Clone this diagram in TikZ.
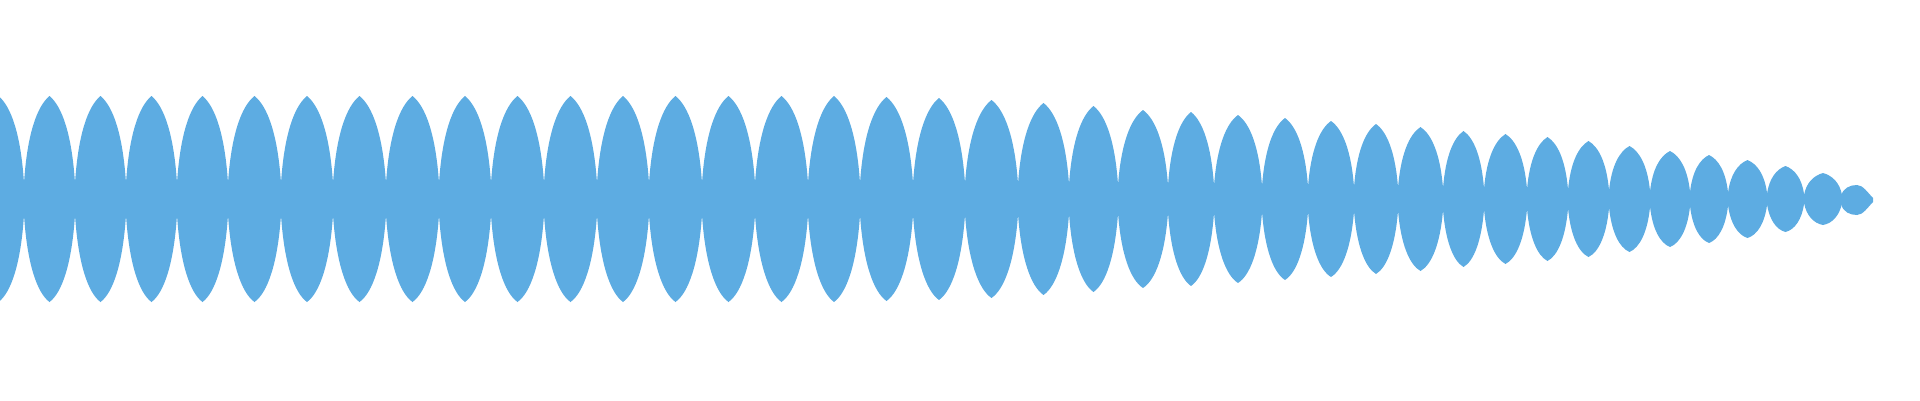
\documentclass[tikz,border=0pt]{standalone}
\definecolor{wave}{RGB}{93,172,226}
\begin{document}
\begin{tikzpicture}[x=1pt,y=-1pt,lobe/.style={fill=wave,draw=wave,line width=0.4pt}]
\useasboundingbox (0,0) rectangle (1920,400);
\clip (0,0) rectangle (1920,400);
\foreach \xa/\xb/\tp in {-27/24/96,24/75/96,75/126/96,126/177/96,177/228/96,228/281/96,281/333/96,333/386/96,386/439/96,439/491/96,491/544/96,544/597/96,597/649/96,649/702/96,702/755/96,755/808/96,808/860/96,860/913/97,913/965/98,965/1018/100,
1018/1069/103,1069/1118/106,1118/1168/110,1168/1214/112,1214/1262/115,1262/1308/118,1308/1354/121,1354/1398/124,1398/1443/127,1443/1484/131,1484/1527/134,1527/1568/137,1568/1609/141,1609/1650/146,1650/1690/151,1690/1728/155,1728/1767/160,1767/1804/166,1804/1842/173}{
  \pgfmathsetmacro{\b}{16*(199-\tp)/103}
  \pgfmathsetmacro{\w}{\xb-\xa}
  \pgfmathsetmacro{\xm}{(\xa+\xb)/2}
  \pgfmathsetmacro{\h}{199-\b-\tp}
  \pgfmathsetmacro{\ua}{199-\b}
  \pgfmathsetmacro{\la}{199+\b}
  \fill[wave] (\xa,\ua)
    .. controls ({\xa+0.06*\w},{\ua-0.55*\h}) and ({\xm-0.25*\w},{\tp+0.12*\h}) .. (\xm,\tp)
    .. controls ({\xm+0.25*\w},{\tp+0.12*\h}) and ({\xb-0.06*\w},{\ua-0.55*\h}) .. (\xb,\ua)
    -- (\xb,\la)
    .. controls ({\xb-0.06*\w},{\la+0.55*\h}) and ({\xm+0.25*\w},{399-\tp-0.12*\h}) .. (\xm,{398-\tp})
    .. controls ({\xm-0.25*\w},{399-\tp-0.12*\h}) and ({\xa+0.06*\w},{\la+0.55*\h}) .. (\xa,\la)
    -- cycle;
}
% final rounded lobe
\fill[wave] (1841,196) .. controls (1843,188) and (1850,185) .. (1857,185)
  .. controls (1863,185) and (1868,193) .. (1873,198) -- (1873,202)
  .. controls (1868,207) and (1863,215) .. (1857,215)
  .. controls (1850,215) and (1843,212) .. (1841,204) -- cycle;
\end{tikzpicture}
\end{document}
